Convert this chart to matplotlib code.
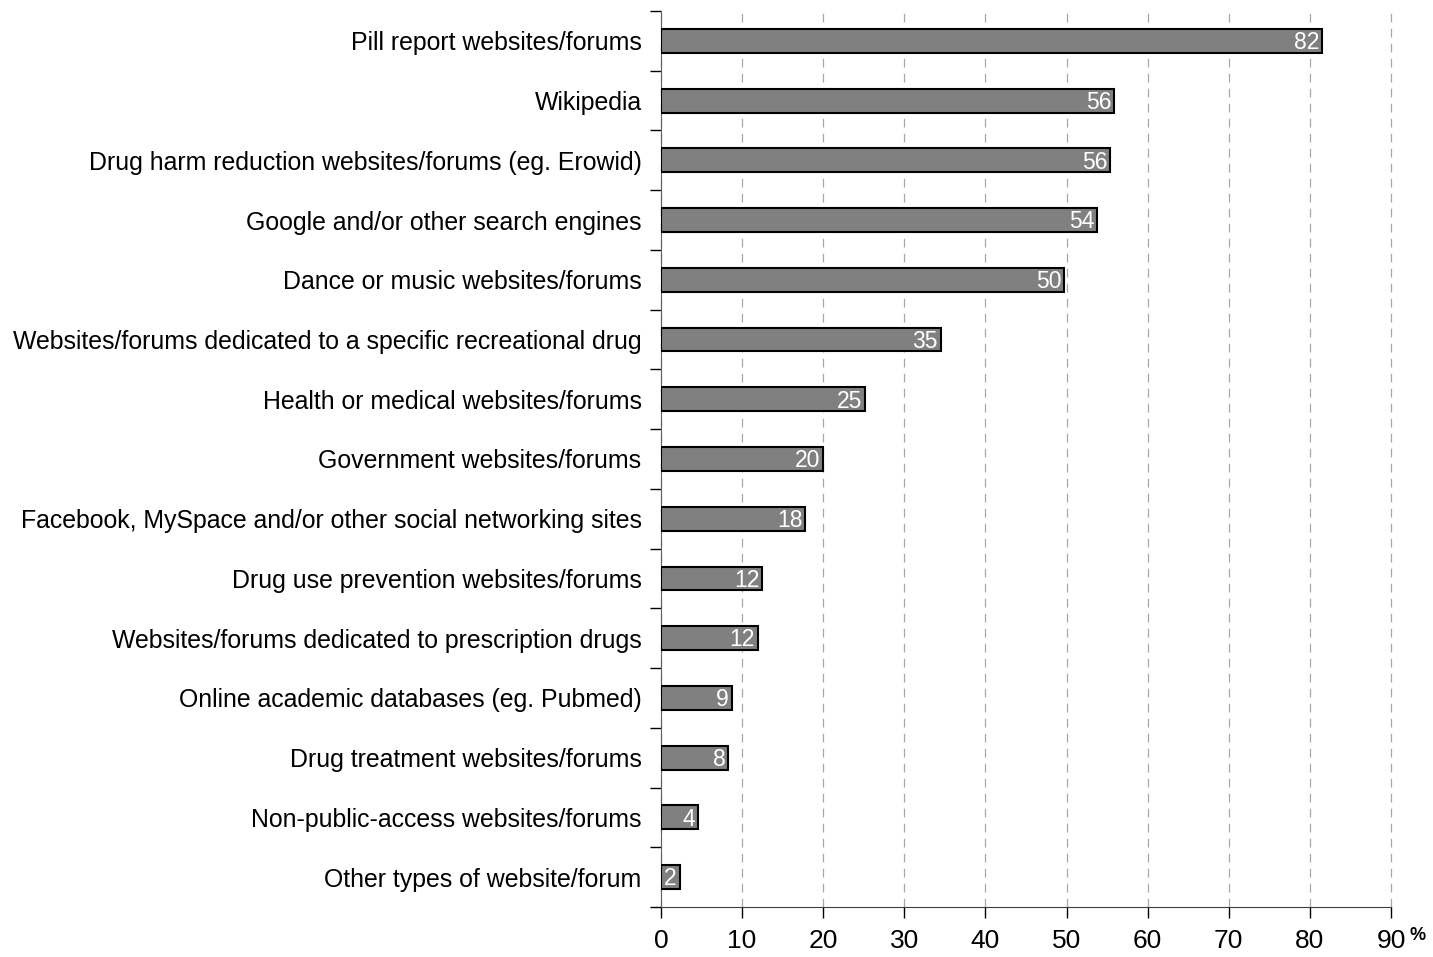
import numpy as np
import matplotlib
matplotlib.use('Agg')
import matplotlib.pyplot as plt

# data, top to bottom as in the chart
categories = ['Pill report websites/forums',
              'Wikipedia',
              'Drug harm reduction websites/forums (eg. Erowid)',
              'Google and/or other search engines',
              'Dance or music websites/forums',
              'Websites/forums dedicated to a specific recreational drug',
              'Health or medical websites/forums',
              'Government websites/forums',
              'Facebook, MySpace and/or other social networking sites',
              'Drug use prevention websites/forums',
              'Websites/forums dedicated to prescription drugs',
              'Online academic databases (eg. Pubmed)',
              'Drug treatment websites/forums',
              'Non-public-access websites/forums',
              'Other types of website/forum']
values = [81.5, 55.9, 55.4, 53.8, 49.7, 34.5, 25.2, 20.0, 17.8,
          12.5, 11.9, 8.7, 8.3, 4.5, 2.3]
labels = ['82', '56', '56', '54', '50', '35', '25', '20', '18',
          '12', '12', '9', '8', '4', '2']
xticks = np.arange(0, 91, 10)

plt.rcParams['font.family'] = ['Liberation Sans', 'DejaVu Sans']

fig = plt.figure(figsize=(14.33, 9.57), dpi=100)
ax = fig.add_axes([661 / 1433, 1 - 907 / 957, 730 / 1433, 896 / 957])

y = np.arange(len(categories))
ax.barh(y, values, height=0.4, color='#808080', edgecolor='black',
        linewidth=1.5, zorder=3)

for yi, v, lab in zip(y, values, labels):
    ax.text(v - 0.35, yi + 0.03, lab, color='white', ha='right', va='center',
            fontsize=16.5, zorder=4)

ax.set_ylim(len(categories) - 0.5, -0.5)
ax.set_xlim(0, 90)

# y axis: category labels, ticks at the boundaries
ax.set_yticks(y)
ax.set_yticklabels(categories, fontsize=17.9)
ax.tick_params(axis='y', which='major', length=0, pad=14)
ax.set_yticks(np.arange(-0.5, len(categories), 1), minor=True)
ax.tick_params(axis='y', which='minor', length=8, width=1, color='black')

# x axis
ax.set_xticks(xticks)
ax.set_xticklabels([str(t) for t in xticks], fontsize=19)
ax.tick_params(axis='x', length=8, width=1, pad=8, direction='out')
ax.xaxis.grid(True, color='#a8a8a8', linestyle=(0, (7, 5)), linewidth=0.9, zorder=0)
for line in ax.get_xgridlines():
    line.set_clip_on(False)
ax.text(1.026, -0.022, '%', transform=ax.transAxes, fontsize=13,
        ha='left', va='top', fontweight='bold')

for side in ['top', 'right']:
    ax.spines[side].set_visible(False)
ax.spines['left'].set_color('#606060')
ax.spines['bottom'].set_color('#404040')

fig.savefig('out.png', dpi=100)
